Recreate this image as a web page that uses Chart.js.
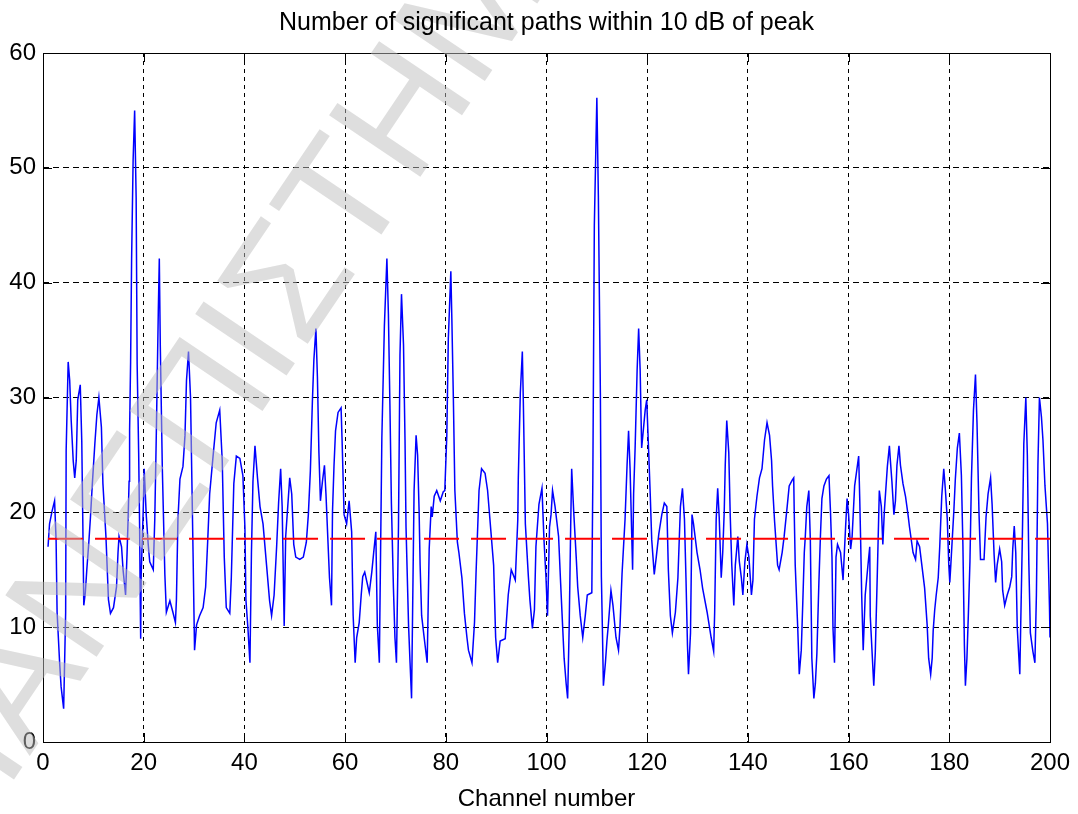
<!DOCTYPE html>
<html>
<head>
<meta charset="utf-8">
<script src="https://cdn.jsdelivr.net/npm/chart.js@4.4.1/dist/chart.umd.min.js"></script>
<style>
  html, body { margin: 0; padding: 0; background: #fff; }
  #wrap { width: 1078px; height: 814px; position: relative; }
</style>
</head>
<body>
<div id="wrap"><canvas id="myChart"></canvas></div>
<script>
'use strict';

// channel positions of the traced samples
let channels = [
  1.0,1.3,1.8,2.3,2.6,2.8,3.3,3.6,4.1,4.5,
  4.6,5.0,5.3,5.6,6.0,6.3,6.6,6.9,7.4,7.7,
  7.9,8.1,8.4,8.7,9.1,9.4,9.8,10.3,10.7,11.1,
  11.6,11.9,12.5,12.8,13.0,13.4,14.0,14.6,14.9,15.1,
  15.6,15.9,16.4,16.7,16.9,17.1,17.2,17.4,17.6,17.9,
  18.2,18.5,18.7,19.0,19.2,19.3,19.4,19.5,19.9,20.1,
  20.5,20.9,21.2,21.9,22.2,22.5,22.9,23.1,23.3,23.7,
  24.2,24.5,25.2,25.8,26.3,26.5,26.8,27.2,27.8,28.2,
  28.5,28.9,29.3,29.8,30.1,30.5,31.1,31.8,32.3,32.7,
  33.1,33.8,34.4,35.1,35.6,36.0,36.4,37.1,37.4,37.9,
  38.4,39.1,39.7,40.1,40.3,40.7,41.1,41.4,41.7,42.1,
  42.6,43.1,43.7,44.4,45.0,45.4,45.9,46.4,46.8,47.2,
  47.5,47.9,48.2,49.0,49.4,49.8,50.2,51.0,51.7,52.3,
  52.7,53.1,53.5,53.8,54.2,54.5,54.8,55.1,55.5,55.9,
  56.2,56.9,57.3,57.5,57.8,58.1,58.6,59.2,59.4,59.8,
  60.3,60.8,61.3,61.6,62.0,62.3,62.8,63.2,63.5,63.9,
  64.8,65.3,65.7,66.1,66.4,66.8,67.3,67.8,68.3,68.6,
  68.9,69.2,69.6,69.9,70.2,70.6,70.9,71.2,71.6,71.9,
  72.1,72.6,72.9,73.2,73.7,74.1,74.4,74.7,74.9,75.2,
  75.7,76.3,76.7,77.1,77.3,77.7,78.2,78.9,79.5,79.8,
  80.2,80.5,81.0,81.2,81.5,81.8,82.3,82.6,83.2,83.7,
  84.2,84.5,85.2,85.7,86.0,86.6,87.1,87.8,88.3,89.5,
  89.9,90.3,90.8,91.8,92.4,93.0,93.8,94.3,94.4,94.8,
  95.2,95.4,95.8,96.4,96.7,97.2,97.6,97.9,98.5,99.1,
  99.5,99.9,100.2,100.6,100.9,101.2,101.7,102.4,102.8,103.2,
  103.5,103.9,104.2,104.5,104.8,105.0,105.4,105.9,106.2,106.7,
  107.2,107.7,108.1,109.0,109.2,109.5,110.0,110.3,110.7,110.9,
  111.1,111.3,111.7,112.0,112.3,112.8,113.2,113.8,114.3,114.6,
  115.0,115.6,116.0,116.3,116.6,117.1,117.3,117.6,118.0,118.3,
  118.6,118.9,119.6,119.9,120.3,120.6,120.9,121.4,121.8,122.3,
  122.9,123.4,123.9,124.2,124.6,125.0,125.6,126.1,126.6,127.0,
  127.4,127.7,128.0,128.2,128.6,128.9,129.2,129.9,130.5,131.0,
  131.9,132.7,133.2,133.4,133.7,134.0,134.3,134.7,135.0,135.3,
  135.5,135.8,136.2,136.5,136.8,137.2,137.5,138.0,138.3,138.7,
  139.0,139.4,139.8,140.2,140.7,141.0,141.3,141.8,142.3,142.8,
  143.3,143.8,144.3,144.7,144.9,145.3,145.9,146.2,146.8,147.2,
  147.8,148.2,148.8,149.1,149.2,149.4,149.9,150.2,150.6,150.9,
  151.2,151.4,151.7,152.1,152.4,152.7,153.1,153.4,153.7,154.1,
  154.4,154.7,155.1,155.6,156.1,156.4,156.7,156.9,157.2,157.5,
  157.8,158.4,158.9,159.4,159.7,160.0,160.4,160.7,161.2,162.0,
  162.2,162.4,162.6,162.9,163.3,163.8,164.2,164.3,165.0,165.3,
  165.7,166.1,166.5,166.8,167.1,167.7,168.1,168.3,168.6,169.0,
  169.3,169.6,170.0,170.3,170.8,171.3,171.8,172.1,172.8,173.3,
  173.6,174.1,174.6,175.1,175.6,175.9,176.3,176.6,176.8,177.1,
  177.4,177.8,178.1,178.5,178.9,179.2,179.6,179.9,180.1,180.3,
  180.9,181.2,181.6,182.0,182.4,182.7,183.0,183.2,183.5,183.8,
  184.1,184.4,184.8,185.2,185.5,185.9,186.2,186.9,187.3,187.7,
  188.2,188.5,188.9,189.2,189.5,190.0,190.4,190.6,191.0,191.5,
  192.0,192.4,192.6,192.9,193.2,193.5,194.0,194.5,194.8,195.2,
  195.5,195.8,196.1,196.6,197.0,197.3,197.6,197.9,198.3,198.6,
  199.0,199.5,199.9,200.0
];

// number of significant paths at each of those channels
let paths = [
  17.0,19.0,20.1,21.0,17.6,11.3,6.9,4.8,2.9,11.3,
  25.4,33.1,31.5,28.0,24.5,23.0,24.5,29.8,31.1,26.2,
  19.4,11.9,13.0,15.0,17.4,19.4,22.5,26.0,28.5,30.0,
  27.4,22.5,17.9,14.6,12.4,11.2,11.7,13.5,16.5,17.9,
  17.0,15.0,12.8,16.5,19.4,22.7,27.1,33.1,42.1,50.7,
  55.0,47.4,32.9,25.2,18.3,12.8,9.0,14.6,20.1,23.8,
  19.8,17.2,15.7,15.0,19.4,26.7,37.5,42.1,34.4,23.8,
  14.6,11.3,12.3,11.3,10.4,12.4,19.4,22.9,24.0,26.7,
  31.5,34.0,30.0,16.5,8.0,10.2,11.0,11.7,13.5,17.4,
  21.6,25.0,27.8,28.9,24.5,16.1,11.7,11.2,14.3,22.5,
  24.9,24.7,23.2,18.7,12.4,9.9,6.9,16.5,22.7,25.8,
  23.0,20.5,19.0,15.4,12.3,11.0,12.8,17.0,20.9,23.8,
  20.5,10.1,17.9,23.0,21.6,17.2,16.1,15.9,16.1,17.4,
  19.8,23.6,29.6,33.3,36.0,31.8,25.2,21.0,22.7,24.1,
  21.6,14.3,11.9,20.1,24.1,27.1,28.7,29.1,26.3,19.8,
  19.0,21.0,18.3,11.0,6.9,9.1,10.4,12.8,14.4,14.8,
  13.0,14.8,16.6,18.3,10.2,6.9,26.5,36.2,42.1,37.3,
  29.4,20.7,13.4,9.1,6.9,18.7,33.7,39.0,34.6,26.3,
  18.7,10.2,6.9,3.8,21.9,26.7,25.0,20.1,15.4,11.0,
  9.1,6.9,16.8,20.5,19.6,21.4,21.9,21.0,21.8,21.9,
  26.7,35.1,41.0,36.9,30.0,21.9,17.4,16.5,14.3,11.2,
  9.1,8.0,6.9,10.4,14.6,21.9,23.8,23.4,21.9,15.4,
  9.1,6.9,8.8,9.0,12.8,15.0,14.1,19.4,23.0,30.4,
  34.0,29.6,19.0,14.4,12.4,9.9,11.5,17.0,20.7,22.1,
  17.6,14.3,11.0,18.7,19.8,21.9,20.5,17.9,13.9,10.1,
  7.3,5.1,3.8,9.9,18.7,23.8,20.1,16.1,13.5,11.0,
  9.1,11.0,12.8,13.0,22.7,45.0,56.1,47.6,30.4,14.4,
  9.9,4.9,6.9,8.8,10.3,13.2,11.9,9.1,8.0,10.1,
  14.6,19.4,24.1,27.1,23.8,15.0,21.6,25.6,32.4,36.0,
  32.4,25.6,28.9,29.8,25.2,21.6,17.6,14.6,16.1,18.1,
  19.8,20.8,20.5,15.0,11.0,9.5,11.3,14.3,20.5,22.1,
  19.4,14.3,8.4,5.9,9.5,19.8,19.0,16.5,15.0,13.4,
  11.3,9.1,7.9,11.3,19.4,22.1,19.6,14.3,16.5,20.1,
  24.1,28.0,25.2,19.6,15.4,11.9,15.4,17.9,15.7,14.3,
  12.8,15.7,17.2,16.1,12.8,14.1,19.4,21.4,23.0,23.8,
  26.3,27.8,26.7,24.5,22.3,19.2,15.4,15.0,16.5,17.9,
  20.5,22.3,22.8,23.0,20.1,15.4,9.9,5.9,8.0,12.1,
  16.5,17.9,20.5,21.9,17.6,7.3,3.8,5.1,7.7,13.9,
  17.9,21.2,22.3,22.9,23.2,20.1,16.1,9.9,6.9,16.1,
  17.2,16.5,14.1,18.7,21.2,19.8,16.8,17.9,22.3,24.9,
  21.4,17.4,12.8,8.0,12.8,15.2,17.0,11.0,4.9,7.8,
  14.6,21.9,20.5,17.2,20.1,24.0,25.8,24.5,22.7,19.8,
  21.0,24.1,25.8,24.1,22.5,21.4,19.8,18.7,16.5,15.9,
  17.5,17.0,15.2,13.4,10.2,7.3,5.9,7.3,9.7,11.5,
  12.8,14.3,17.0,21.4,23.8,22.1,19.4,15.4,13.9,15.4,
  20.1,22.9,25.6,26.9,23.2,17.2,8.4,4.9,7.3,11.3,
  15.7,23.0,28.9,32.0,27.8,19.9,15.9,15.9,19.6,21.6,
  23.0,20.7,16.3,13.9,15.4,16.8,15.7,13.2,11.9,12.8,
  13.5,14.4,16.8,18.8,16.5,9.9,5.9,17.6,26.0,30.0,
  25.0,15.5,9.5,7.9,6.9,12.8,24.1,30.0,28.3,26.3,
  22.3,19.0,11.7,9.1
];

let meanPaths = 17.7;
let xTicks = [0, 20, 40, 60, 80, 100, 120, 140, 160, 180, 200];
let yTicks = [0, 10, 20, 30, 40, 50, 60];
let titleText = 'Number of significant paths within 10 dB of peak';
let xTitle = 'Channel number';
let watermarkText = 'ΠΑΝΕΠΙΣΤΗΜΙΟ';

let fontFamily = "'Liberation Sans', Arial, sans-serif";

let n = Math.min(channels.length, paths.length);
let pathPoints = [];
for (let i = 0; i < n; i++) {
  pathPoints.push({ x: channels[i], y: paths[i] });
}
let meanPoints = [
  { x: channels[0], y: meanPaths },
  { x: channels[n - 1], y: meanPaths }
];

// title centred over the axes box, matlab style
let titlePlugin = {
  id: 'axesTitle',
  afterDraw(chart) {
    let ctx = chart.ctx;
    let a = chart.chartArea;
    ctx.save();
    ctx.font = '25px ' + fontFamily;
    ctx.fillStyle = '#000';
    ctx.textAlign = 'center';
    ctx.textBaseline = 'middle';
    ctx.fillText(titleText, (a.left + a.right) / 2, 23);
    ctx.restore();
  }
};

// box round the axes with inward ticks, like the matlab figure
let boxPlugin = {
  id: 'boxTicks',
  afterDatasetsDraw(chart) {
    let ctx = chart.ctx;
    let a = chart.chartArea;
    let xs = chart.scales.x;
    let ys = chart.scales.y;
    let len = 9;
    ctx.save();
    ctx.strokeStyle = '#000';
    ctx.lineWidth = 1;
    ctx.setLineDash([]);
    ctx.strokeRect(Math.round(a.left) + 0.5, Math.round(a.top) + 0.5,
      Math.round(a.right - a.left), Math.round(a.bottom - a.top));
    ctx.beginPath();
    for (let v of xTicks) {
      let px = Math.round(xs.getPixelForValue(v)) + 0.5;
      ctx.moveTo(px, a.bottom); ctx.lineTo(px, a.bottom - len);
      ctx.moveTo(px, a.top); ctx.lineTo(px, a.top + len);
    }
    for (let v of yTicks) {
      let py = Math.round(ys.getPixelForValue(v)) + 0.5;
      ctx.moveTo(a.left, py); ctx.lineTo(a.left + len, py);
      ctx.moveTo(a.right, py); ctx.lineTo(a.right - len, py);
    }
    ctx.stroke();
    ctx.restore();
  }
};

// faint diagonal watermark lying over the figure
let watermarkPlugin = {
  id: 'watermark',
  afterDraw(chart) {
    let ctx = chart.ctx;
    ctx.save();
    ctx.translate(-35, 852);
    ctx.rotate(-56 * Math.PI / 180);
    ctx.font = '160px ' + fontFamily;
    ctx.fillStyle = 'rgba(190,190,190,0.5)';
    ctx.textBaseline = 'alphabetic';
    ctx.fillText(watermarkText, 0, 0);
    ctx.restore();
  }
};

let ctx = document.getElementById('myChart').getContext('2d');

let chart = new Chart(ctx, {
  type: 'line',
  data: {
    datasets: [
      {
        label: 'mean',
        data: meanPoints,
        borderColor: '#ff0000',
        borderWidth: 2,
        borderDash: [35, 12],
        pointRadius: 0,
        fill: false
      },
      {
        label: 'paths',
        data: pathPoints,
        borderColor: '#0000ff',
        borderWidth: 1.5,
        pointRadius: 0,
        tension: 0,
        fill: false
      }
    ]
  },
  options: {
    responsive: true,
    maintainAspectRatio: false,
    animation: false,
    layout: { padding: { left: 0, right: 28, top: 53, bottom: 0 } },
    plugins: {
      legend: { display: false },
      tooltip: { enabled: false },
      title: { display: false }
    },
    scales: {
      x: {
        type: 'linear',
        min: 0,
        max: 200,
        afterBuildTicks(scale) { scale.ticks = xTicks.map(v => ({ value: v })); },
        afterFit(scale) { scale.height = 72; },
        ticks: {
          color: '#000',
          padding: 7,
          maxRotation: 0,
          font: { family: fontFamily, size: 24 }
        },
        grid: { color: '#000', lineWidth: 1, drawTicks: false },
        border: { display: false, dash: [4, 4] },
        title: {
          display: true,
          text: xTitle,
          color: '#000',
          font: { family: fontFamily, size: 24 },
          padding: { top: 0, bottom: 0 }
        }
      },
      y: {
        type: 'linear',
        min: 0,
        max: 60,
        afterBuildTicks(scale) { scale.ticks = yTicks.map(v => ({ value: v })); },
        afterFit(scale) { scale.width = 43; },
        ticks: {
          color: '#000',
          padding: 7,
          font: { family: fontFamily, size: 24 }
        },
        grid: { color: '#000', lineWidth: 1, drawTicks: false },
        border: { display: false, dash: [6, 4] }
      }
    }
  },
  plugins: [boxPlugin, watermarkPlugin, titlePlugin]
});
</script>
</body>
</html>
